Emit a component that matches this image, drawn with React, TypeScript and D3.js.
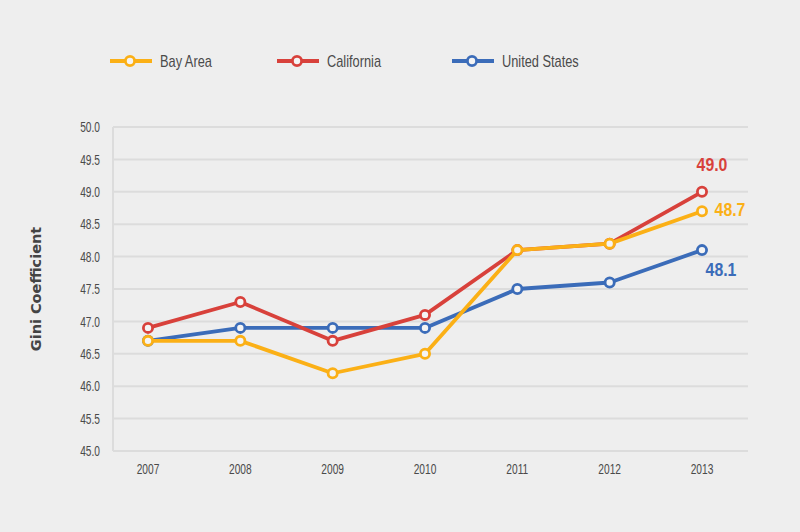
import React from "react";
import * as d3 from "d3";

const years = ["2007", "2008", "2009", "2010", "2011", "2012", "2013"];
const bayArea = [46.7, 46.7, 46.2, 46.5, 48.1, 48.2, 48.7];
const california = [46.9, 47.3, 46.7, 47.1, 48.1, 48.2, 49.0];
const unitedStates = [46.7, 46.9, 46.9, 46.9, 47.5, 47.6, 48.1];
const yTicks = [45.0, 45.5, 46.0, 46.5, 47.0, 47.5, 48.0, 48.5, 49.0, 49.5, 50.0];

const series = [
  { name: "Bay Area", values: bayArea, color: "#fbb016", legendX: 110, label: "48.7", labelDx: 28, labelDy: -2 },
  { name: "California", values: california, color: "#d8413b", legendX: 277, label: "49.0", labelDx: 10, labelDy: -27 },
  { name: "United States", values: unitedStates, color: "#3b6cb9", legendX: 452, label: "48.1", labelDx: 19, labelDy: 20 },
];

const FONT = "'Liberation Sans', Arial, sans-serif";

function NText(props: {
  x: number; y: number; sx: number; size: number; fill: string; anchor?: string; weight?: string; children: React.ReactNode;
}) {
  return (
    <text
      transform={`translate(${props.x},${props.y}) scale(${props.sx},1)`}
      dy="0.35em"
      textAnchor={props.anchor || "start"}
      fontFamily={FONT}
      fontSize={props.size}
      fontWeight={props.weight || "normal"}
      fill={props.fill}
    >
      {props.children}
    </text>
  );
}

export default function App() {
  const W = 800, H = 532;
  const x = d3.scalePoint<string>().domain(years).range([148, 702]);
  const y = d3.scaleLinear().domain([45, 50]).range([451, 127]);
  const line = d3.line<number>().x((_, i) => x(years[i])!).y((d) => y(d));
  const drawOrder = [series[2], series[1], series[0]];
  return (
    <svg width={W} height={H} style={{ position: "absolute", left: 0, top: 0, display: "block" }}>
      <rect width={W} height={H} fill="#eeeeee" />
      {yTicks.map((t) => (
        <g key={t}>
          <line x1={113} x2={748} y1={y(t)} y2={y(t)} stroke="#dcdcdc" strokeWidth={2} />
          <NText x={100} y={y(t)} sx={0.68} size={15} fill="#4a4a4a" anchor="end">
            {t.toFixed(1)}
          </NText>
        </g>
      ))}
      <line x1={113} x2={113} y1={y(50)} y2={y(45)} stroke="#dcdcdc" strokeWidth={2} />
      {years.map((yr) => (
        <NText key={yr} x={x(yr)!} y={469} sx={0.68} size={15} fill="#4a4a4a" anchor="middle">
          {yr}
        </NText>
      ))}
      <text transform="translate(36,289) rotate(-90)" dy="0.35em" textAnchor="middle" fontFamily="'DejaVu Sans', sans-serif" fontSize={14.5} fontWeight="bold" fill="#444">
        Gini Coefficient
      </text>
      {drawOrder.map((s) => (
        <g key={s.name}>
          <path d={line(s.values)!} fill="none" stroke={s.color} strokeWidth={3.8} strokeLinejoin="round" />
          {s.values.map((v, i) => (
            <circle key={i} cx={x(years[i])} cy={y(v)} r={4.6} fill="#f4f4f4" stroke={s.color} strokeWidth={2.8} />
          ))}
          <NText
            x={x(years[6])! + s.labelDx}
            y={y(s.values[6]) + s.labelDy}
            sx={0.88}
            size={18}
            weight="bold"
            fill={s.color}
            anchor="middle"
          >
            {s.label}
          </NText>
        </g>
      ))}
      {series.map((s) => (
        <g key={s.name + "-leg"}>
          <line x1={s.legendX} x2={s.legendX + 42} y1={61} y2={61} stroke={s.color} strokeWidth={3.8} />
          <circle cx={s.legendX + 20} cy={61} r={4.6} fill="#f4f4f4" stroke={s.color} strokeWidth={2.8} />
          <NText x={s.legendX + 50} y={61} sx={0.8} size={16} fill="#4a4a4a">
            {s.name}
          </NText>
        </g>
      ))}
    </svg>
  );
}
